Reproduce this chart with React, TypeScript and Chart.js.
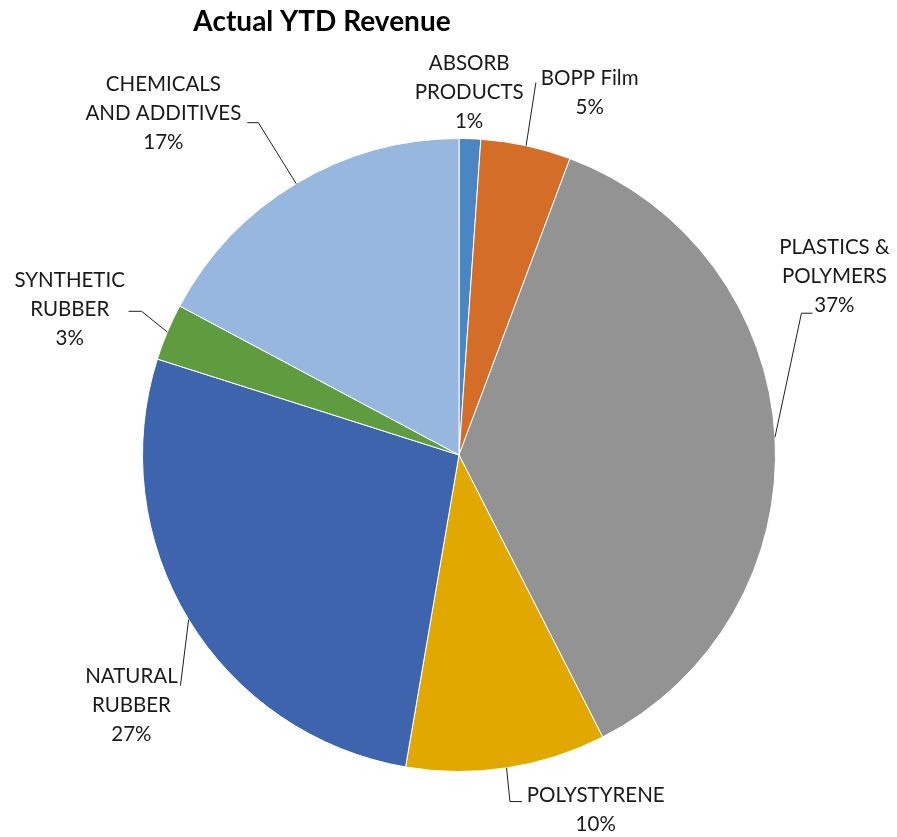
import React, { useEffect, useRef } from "react";
import { Chart, registerables } from "chart.js";

Chart.register(...registerables);

const TITLE = "Actual YTD Revenue";
const categories = [
  "ABSORB PRODUCTS",
  "BOPP Film",
  "PLASTICS & POLYMERS",
  "POLYSTYRENE",
  "NATURAL RUBBER",
  "SYNTHETIC RUBBER",
  "CHEMICALS AND ADDITIVES",
];
const labelLines = [
  ["ABSORB", "PRODUCTS"],
  ["BOPP Film"],
  ["PLASTICS &", "POLYMERS"],
  ["POLYSTYRENE"],
  ["NATURAL", "RUBBER"],
  ["SYNTHETIC", "RUBBER"],
  ["CHEMICALS", "AND ADDITIVES"],
];
const values = [1.1, 4.6, 36.8, 10.2, 27.2, 2.9, 17.2];
const colors = ["#4A86C3", "#D46D27", "#939393", "#E1A800", "#3D64AD", "#5F9C3F", "#97B7DF"];

// label placement, in units of the pie radius relative to pie centre
const labelCenters: [number, number][] = [
  [0.032, -1.145],
  [0.413, -1.145],
  [1.186, -0.565],
  [0.432, 1.12],
  [-1.035, 0.792],
  [-1.23, -0.461],
  [-0.934, -1.079],
];
// leader line points after the arc-edge start (same units); empty = no leader
const leaders: [number, number][][] = [
  [],
  [[0.243, -1.177]],
  [[1.082, -0.448], [1.117, -0.448]],
  [[0.161, 1.095], [0.199, 1.095]],
  [[-0.88, 0.729]],
  [[-1.003, -0.454], [-1.044, -0.454]],
  [[-0.634, -1.05], [-0.669, -1.05]],
];

const LABEL_FONT = "20.5px Lato";
const LINE_H = 29;

const labelPlugin = {
  id: "pieLabels",
  afterDraw(chart: any) {
    const ctx = chart.ctx;
    const meta = chart.getDatasetMeta(0);
    const total = values.reduce((a, b) => a + b, 0);
    ctx.save();
    // title
    ctx.fillStyle = "#000";
    ctx.font = "bold 28px Lato";
    ctx.textAlign = "center";
    ctx.textBaseline = "middle";
    ctx.fillText(TITLE, 322, 22);

    meta.data.forEach((arc: any, i: number) => {
      const { x, y, startAngle, endAngle, outerRadius } = arc.getProps(
        ["x", "y", "startAngle", "endAngle", "outerRadius"],
        true
      );
      const r = outerRadius;
      const mid = (startAngle + endAngle) / 2;
      const ex = x + Math.cos(mid) * r;
      const ey = y + Math.sin(mid) * r;
      const pts = leaders[i];
      if (pts.length) {
        ctx.beginPath();
        ctx.strokeStyle = "#1f1f1f";
        ctx.lineWidth = 1;
        ctx.moveTo(ex, ey);
        pts.forEach(([nx, ny]) => ctx.lineTo(x + nx * r, y + ny * r));
        ctx.stroke();
      }
      const pct = Math.round((values[i] / total) * 100) + "%";
      const lines = [...labelLines[i], pct];
      const [cx, cy] = labelCenters[i];
      const tx = x + cx * r;
      const ty = y + cy * r;
      ctx.font = LABEL_FONT;
      ctx.fillStyle = "#1a1a1a";
      ctx.textAlign = "center";
      ctx.textBaseline = "middle";
      const startY = ty - ((lines.length - 1) * LINE_H) / 2;
      lines.forEach((ln, k) => ctx.fillText(ln, tx, startY + k * LINE_H));
    });
    ctx.restore();
  },
};

export default function App() {
  const ref = useRef<HTMLCanvasElement | null>(null);
  useEffect(() => {
    if (!ref.current) return;
    const chart = new Chart(ref.current, {
      type: "pie",
      data: {
        labels: categories,
        datasets: [
          {
            data: values,
            backgroundColor: colors,
            borderColor: "#ffffff",
            borderWidth: 1,
          },
        ],
      },
      options: {
        responsive: false,
        animation: false,
        layout: { padding: { left: 142, right: 121, top: 138, bottom: 65 } },
        plugins: {
          legend: { display: false },
          tooltip: { enabled: false },
          title: { display: false },
        },
      },
      plugins: [labelPlugin],
    });
    return () => chart.destroy();
  }, []);
  return (
    <div style={{ position: "fixed", left: 0, top: 0, width: 897, height: 837, background: "#fff" }}>
      <canvas ref={ref} width={897} height={837} />
    </div>
  );
}
